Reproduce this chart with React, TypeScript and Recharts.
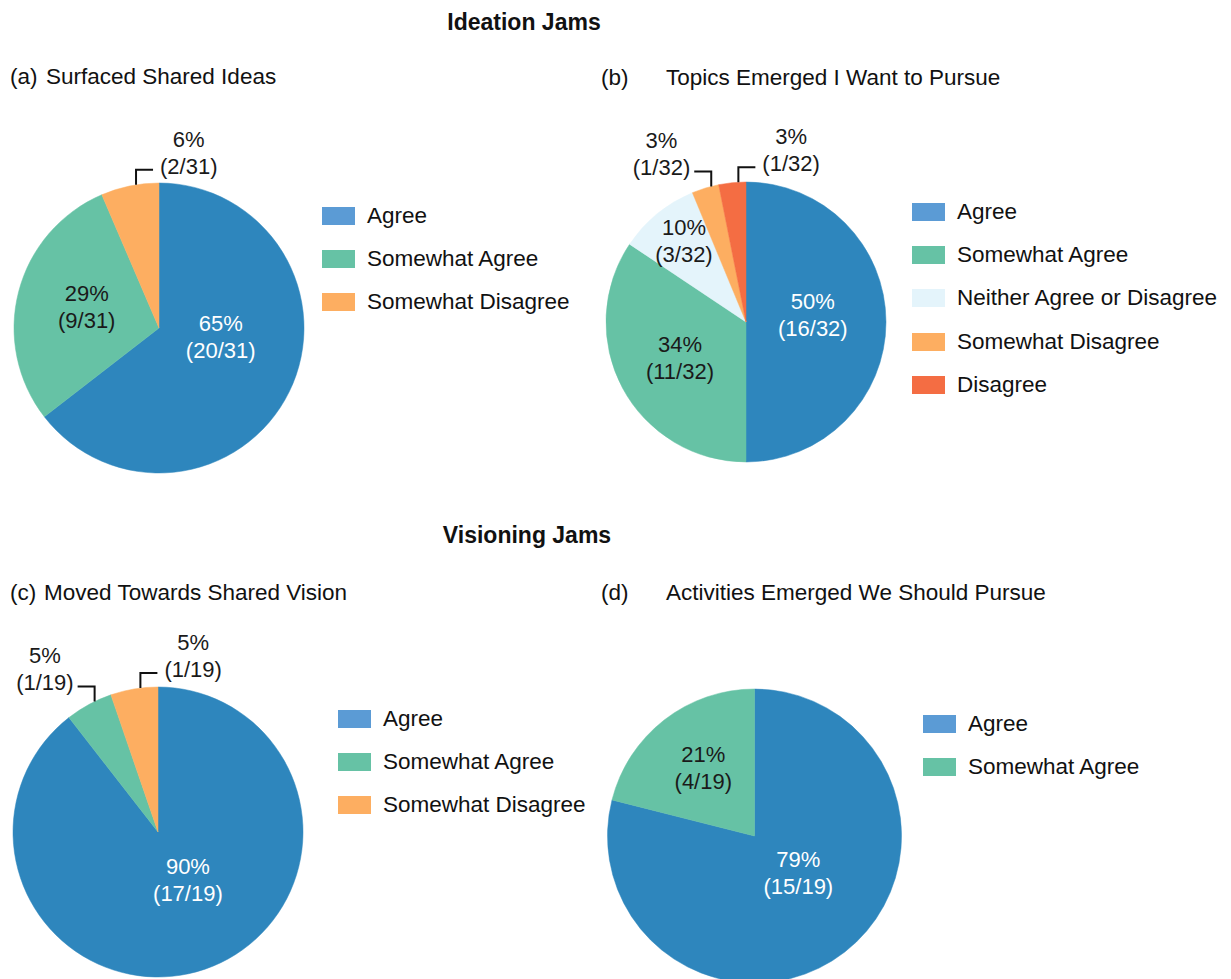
import React from 'react';
import { PieChart, Pie, Cell, Legend } from 'recharts';

const FONT = 'Arial, "Liberation Sans", Helvetica, sans-serif';
const RAD = Math.PI / 180;

// (a) Surfaced Shared Ideas
const catsA = ['Agree', 'Somewhat Agree', 'Somewhat Disagree'];
const countsA = [20, 9, 2];
const pctA = ['65%', '29%', '6%'];

// (b) Topics Emerged I Want to Pursue
const catsB = ['Agree', 'Somewhat Agree', 'Neither Agree or Disagree', 'Somewhat Disagree', 'Disagree'];
const countsB = [16, 11, 3, 1, 1];
const pctB = ['50%', '34%', '10%', '3%', '3%'];

// (c) Moved Towards Shared Vision
const catsC = ['Agree', 'Somewhat Agree', 'Somewhat Disagree'];
const countsC = [17, 1, 1];
const pctC = ['90%', '5%', '5%'];

// (d) Activities Emerged We Should Pursue
const catsD = ['Agree', 'Somewhat Agree'];
const countsD = [15, 4];
const pctD = ['79%', '21%'];

const sliceColors: Record<string, string> = {
  'Agree': '#2E86BD',
  'Somewhat Agree': '#66C2A5',
  'Neither Agree or Disagree': '#E4F4FB',
  'Somewhat Disagree': '#FDAE61',
  'Disagree': '#F46D43',
};
const swatchColors: Record<string, string> = { ...sliceColors, 'Agree': '#5B9BD5' };

// label placement: inside (f = fraction of radius, da = angle shift) or bracket callout
type LabelCfg = { f?: number; da?: number; side?: 'left' | 'right' };
const labelsA: LabelCfg[] = [{ f: 0.43, da: 18 }, { f: 0.52, da: -2 }, { side: 'right' }];
const labelsB: LabelCfg[] = [{ f: 0.48, da: 6 }, { f: 0.535, da: 0 }, { f: 0.73, da: -2 }, { side: 'left' }, { side: 'right' }];
const labelsC: LabelCfg[] = [{ f: 0.39, da: 13 }, { side: 'left' }, { side: 'right' }];
const labelsD: LabelCfg[] = [{ f: 0.39, da: 12 }, { f: 0.58, da: -1 }];

const FS = 22;
const TFS = 22.5;
const charW: Record<string, number> = { '(': 0.333, ')': 0.333, '/': 0.278, '%': 0.889 };
const textWidth = (s: string) => s.split('').reduce((w, c) => w + (charW[c] ?? 0.556), 0) * FS;

function PiePanel(props: any) {
  const { left, top, width, height, cats, counts, pcts, cx, cy, r, labels, legendLeft, legendTop } = props;
  const data = cats.map((name: string, i: number) => ({ name, value: counts[i] }));
  const total = counts.reduce((s: number, v: number) => s + v, 0);

  const renderLabel = (p: any) => {
    const i = p.index;
    const cfg: LabelCfg = labels[i];
    const frac = `(${counts[i]}/${total})`;
    const color = cats[i] === 'Agree' ? '#ffffff' : '#1a1a1a';
    if (!cfg.side) {
      const a = (p.midAngle + (cfg.da || 0)) * RAD;
      const x = p.cx + p.outerRadius * (cfg.f || 0.5) * Math.cos(a);
      const y = p.cy - p.outerRadius * (cfg.f || 0.5) * Math.sin(a);
      return (
        <g key={`l${i}`}>
          <text x={x} y={y - 13.5} dy="0.35em" textAnchor="middle" fill={color} fontSize={FS} fontFamily={FONT}>{pcts[i]}</text>
          <text x={x} y={y + 13.5} dy="0.35em" textAnchor="middle" fill={color} fontSize={FS} fontFamily={FONT}>{frac}</text>
        </g>
      );
    }
    const a = (p.midAngle - 2.5) * RAD;
    const px = p.cx + p.outerRadius * Math.cos(a);
    const py = p.cy - p.outerRadius * Math.sin(a);
    const barY = py - 15;
    const dir = cfg.side === 'right' ? 1 : -1;
    const ex = px + dir * 17;
    const w = textWidth(frac);
    const tx = cfg.side === 'right' ? ex + 7 + w / 2 : ex - 4 - w / 2;
    return (
      <g key={`l${i}`}>
        <path d={`M${px},${py} V${barY} H${ex}`} stroke="#111" strokeWidth={2} fill="none" />
        <text x={tx} y={barY - 31} dy="0.35em" textAnchor="middle" fill="#1a1a1a" fontSize={FS} fontFamily={FONT}>{pcts[i]}</text>
        <text x={tx} y={barY - 4} dy="0.35em" textAnchor="middle" fill="#1a1a1a" fontSize={FS} fontFamily={FONT}>{frac}</text>
      </g>
    );
  };

  // keep the legend in the data order (recharts would sort it by name)
  const renderLegend = () => (
    <div style={{ fontFamily: FONT, whiteSpace: 'nowrap' }}>
      {cats.map((name: string) => (
        <div key={name} style={{ display: 'flex', alignItems: 'center', height: 43.4 }}>
          <span style={{ display: 'inline-block', flexShrink: 0, width: 33, height: 18, background: swatchColors[name], marginRight: 12 }} />
          <span style={{ fontSize: TFS, color: '#111' }}>{name}</span>
        </div>
      ))}
    </div>
  );

  return (
    <div style={{ position: 'absolute', left, top }}>
      <PieChart width={width} height={height} margin={{ top: 0, right: 0, bottom: 0, left: 0 }}>
        <Pie
          data={data}
          dataKey="value"
          nameKey="name"
          cx={cx}
          cy={cy}
          outerRadius={r}
          startAngle={90}
          endAngle={-270}
          isAnimationActive={false}
          label={renderLabel}
          labelLine={false}
        >
          {data.map((d: any) => (
            <Cell key={d.name} fill={sliceColors[d.name]} stroke={sliceColors[d.name]} strokeWidth={0.5} />
          ))}
        </Pie>
        <Legend
          layout="vertical"
          align="center"
          verticalAlign="middle"
          content={renderLegend}
          wrapperStyle={{ left: legendLeft, top: legendTop, width: 300, height: 'auto' }}
        />
      </PieChart>
    </div>
  );
}

const txt = (s: string, left: number, cy: number) => (
  <div style={{ position: 'absolute', left, top: cy - 12, height: 24, lineHeight: '24px', fontSize: TFS, fontFamily: FONT, color: '#111', whiteSpace: 'nowrap' }}>{s}</div>
);
const heading = (s: string, cx: number, cy: number) => (
  <div style={{ position: 'absolute', left: cx - 150, width: 300, textAlign: 'center', top: cy - 13, height: 26, lineHeight: '26px', fontSize: 23, fontWeight: 'bold', fontFamily: FONT, color: '#111' }}>{s}</div>
);

export default function App() {
  return (
    <div style={{ position: 'absolute', left: 0, top: 0, width: 1231, height: 979, background: '#fff', overflow: 'hidden' }}>
      {heading('Ideation Jams', 524, 22)}
      {txt('(a)', 10, 77)}
      {txt('Surfaced Shared Ideas', 46, 77)}
      {txt('(b)', 601, 78)}
      {txt('Topics Emerged I Want to Pursue', 666, 78)}
      {heading('Visioning Jams', 527, 535)}
      {txt('(c)', 10, 593)}
      {txt('Moved Towards Shared Vision', 44, 593)}
      {txt('(d)', 601, 593)}
      {txt('Activities Emerged We Should Pursue', 666, 593)}

      <PiePanel left={0} top={100} width={600} height={400} cats={catsA} counts={countsA} pcts={pctA}
        cx={159} cy={228} r={145} labels={labelsA} legendLeft={322} legendTop={94} />
      <PiePanel left={600} top={100} width={631} height={400} cats={catsB} counts={countsB} pcts={pctB}
        cx={146} cy={222} r={140} labels={labelsB} legendLeft={312} legendTop={90} />
      <PiePanel left={0} top={610} width={615} height={369} cats={catsC} counts={countsC} pcts={pctC}
        cx={158} cy={222} r={145} labels={labelsC} legendLeft={338} legendTop={87} />
      <PiePanel left={600} top={610} width={631} height={369} cats={catsD} counts={countsD} pcts={pctD}
        cx={154.5} cy={226} r={147} labels={labelsD} legendLeft={323} legendTop={92} />
    </div>
  );
}
